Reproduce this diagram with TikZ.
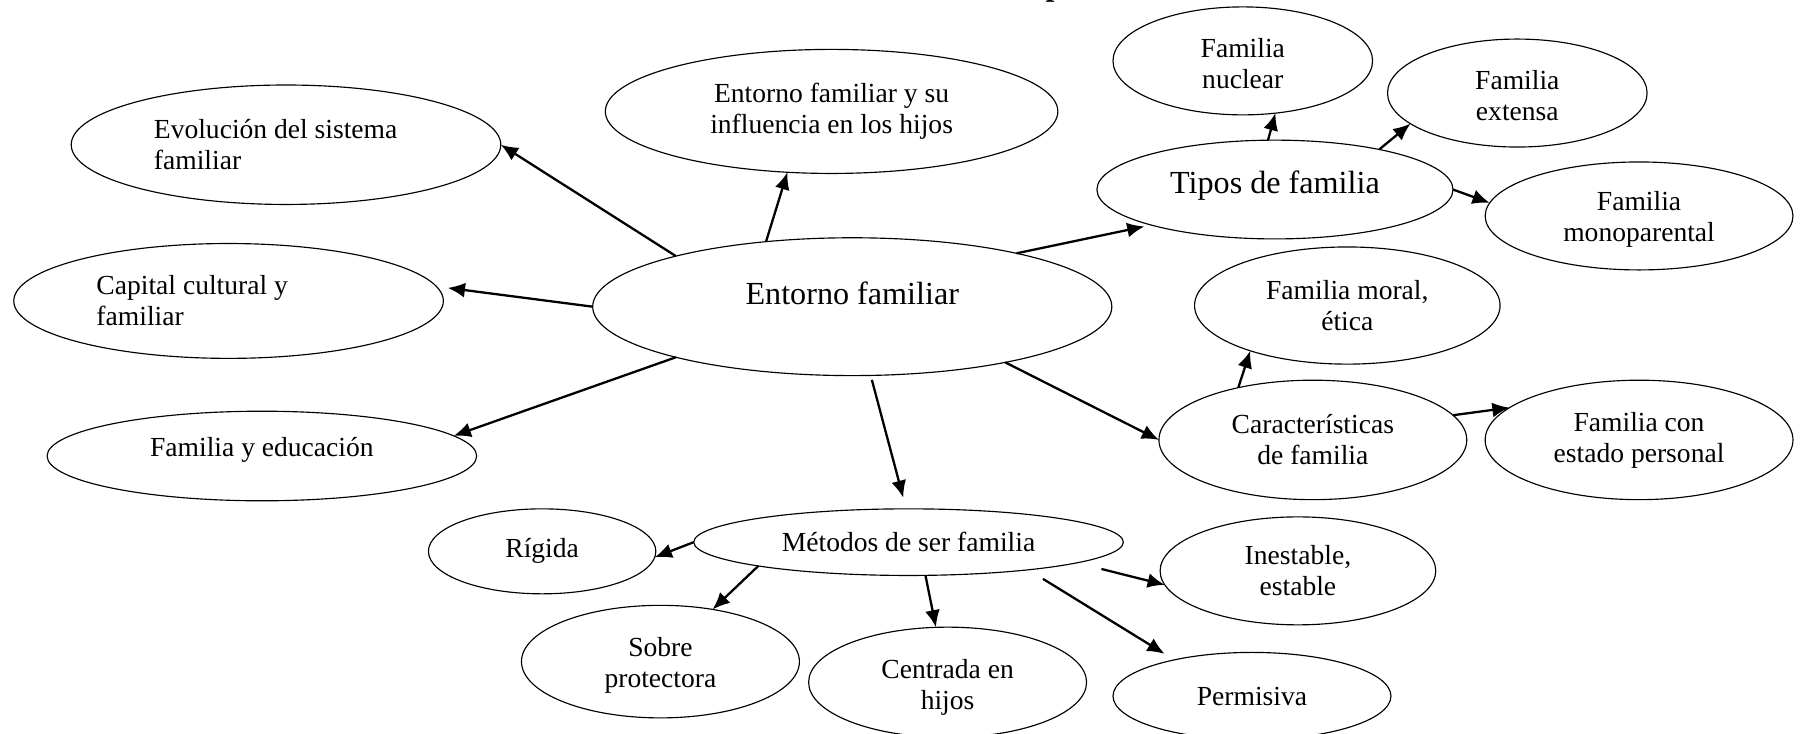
\documentclass[tikz,border=0pt]{standalone}
\usepackage{fontspec}
\setmainfont{Liberation Serif}
\usetikzlibrary{shapes.geometric,arrows.meta}
\begin{document}
\begin{tikzpicture}[x=0.5pt,y=-0.5pt,
  bub/.style={ellipse,draw,line width=0.5pt,inner sep=0pt,outer sep=0pt,align=center,
    font=\fontsize{12}{13.5}\selectfont},
  big/.style={font=\fontsize{14}{16}\selectfont},
  arr/.style={-{Latex[length=7.5pt,width=6.5pt]},line width=1pt}]
\useasboundingbox (0,0) rectangle (1568,639);

\node[font=\bfseries\fontsize{14}{16}\selectfont,anchor=base west,inner sep=0pt] (ttl) at (910,-4) {p};

\node[bub,minimum width=226pt,minimum height=60pt,
  label={[big,yshift=6pt]center:Entorno familiar}] (ent) at (742,267) {};
\node[bub,minimum width=187pt,minimum height=52pt,text width=115pt,align=flush left] (evo) at (249,126) {Evolución del sistema\\familiar};
\node[bub,minimum width=197pt,minimum height=54pt] (inf) at (724,97) {Entorno familiar y su\\influencia en los hijos};
\node[bub,minimum width=187pt,minimum height=50pt,text width=115pt,align=flush left] (cap) at (199,262) {Capital cultural y\\familiar};
\node[bub,minimum width=187pt,minimum height=39pt,
  label={[font=\fontsize{12}{13.5}\selectfont,yshift=2.5pt]center:Familia y educación}] (edu) at (228,397) {};

\node[bub,minimum width=155pt,minimum height=43pt,
  label={[big,yshift=1.5pt]center:Tipos de familia}] (tip) at (1110,165) {};
\node[bub,minimum width=113pt,minimum height=47pt,
  label={[align=center,font=\fontsize{12}{13.5}\selectfont,yshift=-1pt]center:Familia\\nuclear}] (nuc) at (1082,53) {};
\node[bub,minimum width=113pt,minimum height=47pt,
  label={[align=center,font=\fontsize{12}{13.5}\selectfont,yshift=-1pt]center:Familia\\extensa}] (ext) at (1321,81) {};
\node[bub,minimum width=134pt,minimum height=47pt,
  label={[align=center,font=\fontsize{12}{13.5}\selectfont,yshift=-1.5pt]center:Familia\\monoparental}] (mon) at (1427,188) {};

\node[bub,minimum width=133pt,minimum height=51pt] (mor) at (1173,266) {Familia moral,\\ética};
\node[bub,minimum width=134pt,minimum height=52pt] (car) at (1143,383) {Características\\de familia};
\node[bub,minimum width=134pt,minimum height=52pt] (est) at (1427,383) {Familia con\\estado personal};

\node[bub,minimum width=187pt,minimum height=29pt] (met) at (791,472) {Métodos de ser familia};
\node[bub,minimum width=99pt,minimum height=37pt] (rig) at (472,480) {Rígida};
\node[bub,minimum width=120pt,minimum height=47pt] (ine) at (1130,497) {Inestable,\\estable};
\node[bub,minimum width=121pt,minimum height=49pt,
  label={[align=center,font=\fontsize{12}{13.5}\selectfont,yshift=-1.5pt]center:Sobre\\protectora}] (sob) at (575,576) {};
\node[bub,minimum width=121pt,minimum height=48pt,
  label={[align=center,font=\fontsize{12}{13.5}\selectfont,yshift=-2pt]center:Centrada en\\hijos}] (cen) at (825,594) {};
\node[bub,minimum width=121pt,minimum height=38pt] (per) at (1090,606) {Permisiva};

\draw[arr] (ent.164) -- (evo.east);
\draw[arr] (ent.143) -- (inf.234);
\draw[arr,shorten >=5pt] (ent.west) -- (cap.4);
\draw[arr] (ent.196) -- (edu.6);
\draw[arr,shorten >=3pt] (ent.18) -- (tip.196);
\draw[arr] (ent.-20) -- (car.west);
\draw[arr,shorten <=2pt,shorten >=5pt] (ent.-75) -- (met.94);

\draw[arr] (tip.98) -- (nuc.-58);
\draw[arr] (tip.21) -- (ext.196);
\draw[arr] (tip.east) -- (mon.175);

\draw[arr] (car.145) -- (mor.205);
\draw[arr] (car.10) -- (est.166);

\draw[arr] (met.west) -- (rig.-3);
\draw[arr] (met.189) -- (sob.45);
\draw[arr] (met.-63) -- (cen.102);
\draw[arr,shorten <=11pt] (met.-7) -- (ine.186);
\draw[arr,shorten <=7.5pt,shorten >=5pt] (met.-13) -- (per.155);
\end{tikzpicture}
\end{document}
